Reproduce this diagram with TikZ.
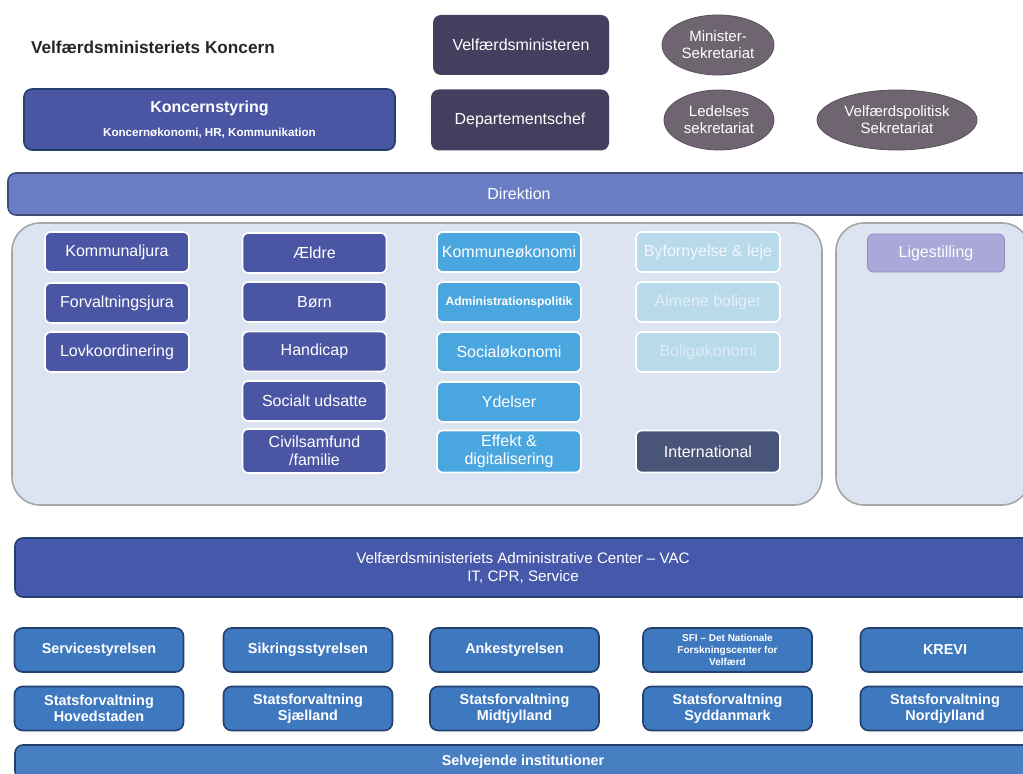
\documentclass[tikz,border=0pt]{standalone}
\usepackage{fontspec}
\setmainfont{Liberation Sans}
\usepackage{tikz}
\usetikzlibrary{shapes.geometric}
\usepackage{xcolor}
\definecolor{topdark}{HTML}{42405E}
\definecolor{secgray}{HTML}{6E6571}
\definecolor{indigo}{HTML}{4A56A3}
\definecolor{direk}{HTML}{6A7EC6}
\definecolor{panel}{HTML}{DCE3F1}
\definecolor{skyblue}{HTML}{4AA6DE}
\definecolor{paleteal}{HTML}{B9DAEB}
\definecolor{intl}{HTML}{495578}
\definecolor{lilac}{HTML}{A9A8D8}
\definecolor{vacblue}{HTML}{4658A9}
\definecolor{agency}{HTML}{3E78BF}
\definecolor{agencyline}{HTML}{24406F}
\tikzset{
    topbox/.style={
        rectangle,
        rounded corners=4pt,
        fill=topdark,
        text=white,
        align=center,
        font=\fontsize{8}{9.5}\selectfont
    },
    sekr/.style={
        ellipse,
        fill=secgray,
        draw=secgray!80!black,
        text=white,
        align=center,
        inner sep=0pt,
        minimum height=30pt,
        font=\fontsize{7.5}{8.5}\selectfont
    },
    bar/.style={
        rectangle,
        rounded corners=4pt,
        draw=agencyline,
        line width=0.8pt,
        text=white,
        align=center
    },
    unit/.style={
        rectangle,
        rounded corners=3pt,
        draw=white,
        line width=0.8pt,
        text=white,
        align=center,
        inner sep=1pt,
        minimum width=72pt,
        minimum height=20pt,
        font=\fontsize{8}{9}\selectfont
    },
    agencybox/.style={
        rectangle,
        rounded corners=4pt,
        fill=agency,
        draw=agencyline,
        line width=0.8pt,
        text=white,
        align=center,
        inner sep=1pt,
        minimum width=84.5pt,
        minimum height=22pt,
        font=\bfseries\fontsize{7.2}{8.2}\selectfont
    },
    panelbox/.style={
        rectangle,
        rounded corners=14pt,
        fill=panel,
        draw=gray!70,
        line width=0.8pt,
        minimum height=141pt
    }
}

\begin{document}
\begin{tikzpicture}[x=0.5pt, y=-0.5pt]
    \fill[white] (0,0) rectangle (1023,774);
    \useasboundingbox (0,0) rectangle (1023,774);

    % Top
    \node[anchor=west, text=black!85, font=\bfseries\fontsize{8.6}{10}\selectfont] (title) at (24,47) {Velfærdsministeriets Koncern};
    \node[topbox, minimum width=88pt, minimum height=30pt] (minister) at (521,45) {Velfærdsministeren};
    \node[topbox, minimum width=89pt, minimum height=30.5pt] (depchef) at (520,120) {Departementschef};
    \node[sekr, minimum width=56pt] (minsek) at (718,45) {Minister-\\Sekretariat};
    \node[sekr, minimum width=55pt] (ledsek) at (719,120) {Ledelses\\sekretariat};
    \node[sekr, minimum width=80pt] (velsek) at (897,120) {Velfærdspolitisk\\Sekretariat};
    \node[bar, fill=indigo, minimum width=185.5pt, minimum height=30.5pt] (koncern) at (209.5,119.5)
        {\bfseries\fontsize{8}{9}\selectfont Koncernstyring\\[0pt]
         \bfseries\fontsize{5.8}{7}\selectfont Koncernøkonomi, HR, Kommunikation};
    \node[bar, fill=direk, draw=direk!60!black, minimum width=511pt, minimum height=21pt,
        font=\fontsize{8}{9}\selectfont] (direktion) at (519,194) {Direktion};

    % Panels
    \node[panelbox, minimum width=405pt] (mainpanel) at (417,364) {};
    \node[panelbox, minimum width=97pt] (sidepanel) at (933,364) {};

    % Kontorer
    \node[unit, fill=indigo] (kjura) at (117,252) {Kommunaljura};
    \node[unit, fill=indigo] (fjura) at (117,303) {Forvaltningsjura};
    \node[unit, fill=indigo] (lovko) at (117,352) {Lovkoordinering};

    \node[unit, fill=indigo] (aeldre) at (314.5,253) {Ældre};
    \node[unit, fill=indigo] (boern) at (314.5,302) {Børn};
    \node[unit, fill=indigo] (handicap) at (314.5,351.5) {Handicap};
    \node[unit, fill=indigo] (udsatte) at (314.5,401) {Socialt udsatte};
    \node[unit, fill=indigo, minimum height=22pt] (civil) at (314.5,451) {Civilsamfund\\/familie};

    \node[unit, fill=skyblue] (koek) at (509,252) {Kommuneøkonomi};
    \node[unit, fill=skyblue, font=\bfseries\fontsize{6}{7}\selectfont] (adminpol) at (509,302) {Administrationspolitik};
    \node[unit, fill=skyblue] (soek) at (509,352) {Socialøkonomi};
    \node[unit, fill=skyblue] (ydelser) at (509,402) {Ydelser};
    \node[unit, fill=skyblue, minimum height=21pt] (effekt) at (509,451.5) {Effekt \&\\digitalisering};

    \node[unit, fill=paleteal, text=white!80!paleteal] (byforn) at (708,252) {Byfornyelse \& leje};
    \node[unit, fill=paleteal, text=white!60!paleteal] (almene) at (708,302) {Almene boliger};
    \node[unit, fill=paleteal, text=white!50!paleteal] (boligoek) at (708,352) {Boligøkonomi};
    \node[unit, fill=intl, minimum height=21pt] (intl) at (708,451.5) {International};

    \node[unit, fill=lilac, draw=lilac!85!black, line width=0.4pt, minimum width=68.5pt, minimum height=19pt] (ligest) at (936,253) {Ligestilling};

    % VAC
    \node[bar, fill=vacblue, minimum width=508pt, minimum height=29.5pt,
        font=\fontsize{7.6}{9}\selectfont] (vac) at (523,567.5)
        {Velfærdsministeriets Administrative Center -- VAC\\IT, CPR, Service};

    % Styrelser
    \node[agencybox] (service) at (99,650) {Servicestyrelsen};
    \node[agencybox] (sikring) at (308,650) {Sikringsstyrelsen};
    \node[agencybox] (ankest) at (514.5,650) {Ankestyrelsen};
    \node[agencybox, font=\bfseries\fontsize{5}{6}\selectfont] (sfi) at (727.5,650)
        {SFI -- Det Nationale\\Forskningscenter for\\Velfærd};
    \node[agencybox] (krevi) at (945,650) {KREVI};

    \node[agencybox] (sfhoved) at (99,708.5) {Statsforvaltning\\Hovedstaden};
    \node[agencybox] (sfsjael) at (308,708.5) {Statsforvaltning\\Sjælland};
    \node[agencybox] (sfmidt) at (514.5,708.5) {Statsforvaltning\\Midtjylland};
    \node[agencybox] (sfsyd) at (727.5,708.5) {Statsforvaltning\\Syddanmark};
    \node[agencybox] (sfnord) at (945,708.5) {Statsforvaltning\\Nordjylland};

    \node[bar, fill=agency!95!white, minimum width=508pt, minimum height=17pt,
        font=\bfseries\fontsize{7.2}{8}\selectfont] (selvejende) at (523,762) {Selvejende institutioner};

\end{tikzpicture}
\end{document}
